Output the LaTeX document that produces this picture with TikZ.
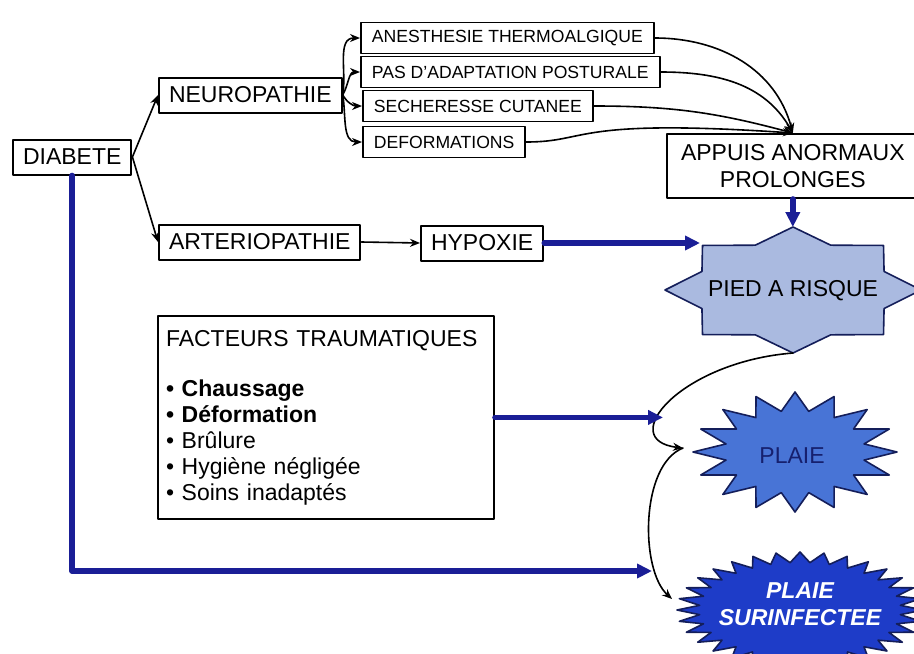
\documentclass[tikz,border=0pt]{standalone}
\usepackage{fontspec}
\setmainfont{Liberation Sans}
\usepackage{tikz}
\usetikzlibrary{arrows.meta}

\definecolor{navyline}{RGB}{26,30,150}
\definecolor{piedfill}{RGB}{170,186,224}
\definecolor{plaiefill}{RGB}{72,116,214}
\definecolor{plaietext}{RGB}{22,32,110}
\definecolor{surinffill}{RGB}{30,60,200}
\definecolor{stardraw}{RGB}{20,30,90}

\begin{document}
\begin{tikzpicture}[x=0.5pt,y=-0.5pt,line cap=round,line join=round,>={Triangle[length=7.5pt,width=7pt]}]
\useasboundingbox (0,0) rectangle (914,653);
\fill[white] (0,0) rectangle (914,653);

\tikzstyle{bigbox}=[draw, line width=1pt, font=\fontsize{11.5}{13.5}\selectfont, inner xsep=5pt, minimum height=17.5pt]
\tikzstyle{smallbox}=[draw, line width=0.9pt, font=\fontsize{8.8}{10}\selectfont, inner xsep=5.5pt, minimum height=15.5pt]
\tikzstyle{trauma}=[draw, line width=1pt, font=\fontsize{11.5}{13}\selectfont, text width=160pt, align=left, inner xsep=4pt, inner ysep=7pt]
\tikzstyle{thinarrow}=[-{Stealth[length=5pt,width=4pt]}, line width=0.8pt]
\tikzstyle{bluearrow}=[->, draw=navyline, line width=2.8pt]
\tikzstyle{startext}=[font=\fontsize{11.5}{13.5}\selectfont]

% boxes
\node[bigbox, anchor=west] (diab) at (12,157) {DIABETE};
\node[bigbox, anchor=west] (neuro) at (158,95) {NEUROPATHIE};
\node[bigbox, anchor=west] (arter) at (158,242) {ARTERIOPATHIE};
\node[bigbox, anchor=west] (hypox) at (420,243) {HYPOXIE};
\node[smallbox, anchor=west] (anest) at (360,38) {ANESTHESIE THERMOALGIQUE};
\node[smallbox, anchor=west] (posture) at (360,72) {PAS D'ADAPTATION POSTURALE};
\node[smallbox, anchor=west] (sech) at (362,106) {SECHERESSE CUTANEE};
\node[smallbox, anchor=west] (deform) at (362,142) {DEFORMATIONS};
\node[bigbox, align=center, anchor=west, inner xsep=7pt, minimum height=32pt] (appuis) at (666,166) {APPUIS ANORMAUX\\PROLONGES};
\node[trauma, anchor=north west] (traum) at (157,315) {FACTEURS TRAUMATIQUES\\[12pt]
\textbf{• Chaussage}\\
\textbf{• Déformation}\\
• Brûlure\\
• Hygiène négligée\\
• Soins inadaptés};

% stars
\draw[fill=piedfill, draw=stardraw, line width=0.8pt] plot[samples at={0,...,15}, variable=\k] ({793+128*cos(\k*22.5)*(1-0.23*mod(\k,2))}, {290+63*sin(\k*22.5)*(1-0.23*mod(\k,2))}) -- cycle;
\draw[fill=plaiefill, draw=stardraw, line width=0.8pt] plot[samples at={0,...,31}, variable=\k] ({795+102*cos(\k*11.25)*(1-0.31*mod(\k,2))}, {452+60*sin(\k*11.25)*(1-0.31*mod(\k,2))}) -- cycle;
\draw[fill=surinffill, draw=stardraw, line width=0.8pt] plot[samples at={0,...,63}, variable=\k] ({800+123*cos(\k*5.625)*(1-0.18*mod(\k,2))}, {610+58*sin(\k*5.625)*(1-0.18*mod(\k,2))}) -- cycle;
\node[startext] (pied) at (793,291) {PIED A RISQUE};
\node[startext, text=plaietext] (plaie) at (792,456) {PLAIE};
\node[startext, text=white, font=\fontsize{11.5}{13.5}\selectfont\bfseries\itshape, align=center] (surinf) at (800,604) {PLAIE\\SURINFECTEE};

\coordinate (piedN) at (793,227);
\coordinate (piedW) at (700,243);
\coordinate (piedS) at (793,353);
\coordinate (plaieW) at (683,448);
\coordinate (plaieIn) at (663,416);
\coordinate (surinfW) at (672,599);
\coordinate (surinfIn) at (652,571);

% thin links
\draw[thinarrow] (diab.east) -- (neuro.west);
\draw[thinarrow] (diab.east) -- (arter.west);
\draw[thinarrow] (neuro.east) to[out=80,in=180] (anest.west);
\draw[thinarrow] (neuro.east) to[out=60,in=180] (posture.west);
\draw[thinarrow] (neuro.east) to[out=-60,in=180] (sech.west);
\draw[thinarrow] (neuro.east) to[out=-80,in=180] (deform.west);
\draw[thinarrow] (anest.east) to[out=0,in=105] (appuis.north);
\draw[thinarrow] (posture.east) to[out=0,in=120] (appuis.north);
\draw[thinarrow] (sech.east) to[out=0,in=165] (appuis.north);
\draw[thinarrow] (deform.east) .. controls (590,142) and (570,118) .. (appuis.north);
\draw[thinarrow] (arter.east) -- (hypox.west);
\draw[thinarrow] (piedS) .. controls (680,362) and (615,440) .. (plaieW);
\draw[thinarrow] (plaieW) .. controls (640,465) and (640,570) .. (surinfW);

% thick blue links
\draw[bluearrow] (appuis.south) -- (appuis.south |- piedN);
\draw[bluearrow] (hypox.east) -- (piedW);
\draw[bluearrow] (traum.east) -- (traum.east -| plaieIn);
\draw[bluearrow] (diab.south) |- (surinfIn);
\end{tikzpicture}
\end{document}
